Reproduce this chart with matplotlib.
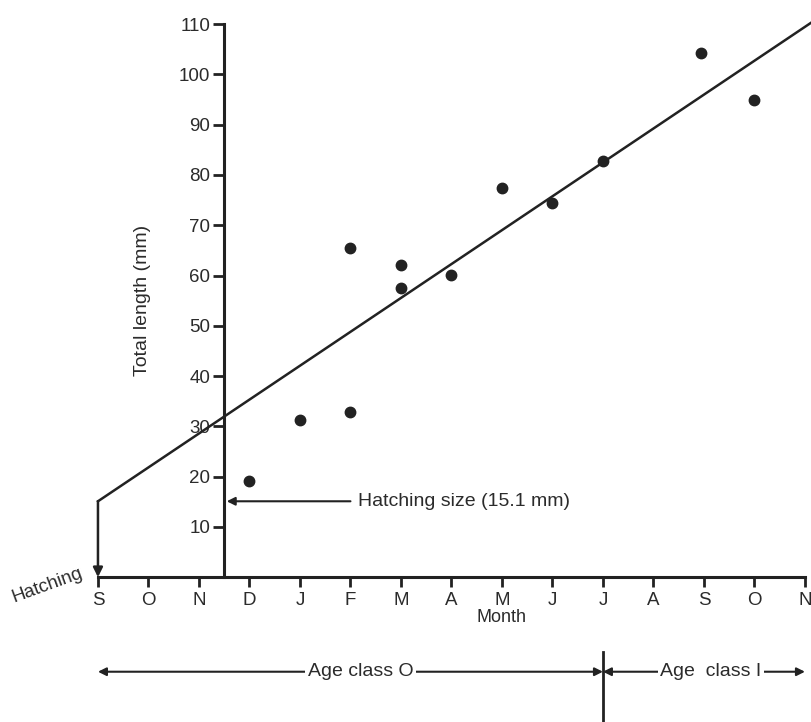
import matplotlib
matplotlib.use("Agg")
import matplotlib.pyplot as plt

plt.rcParams['font.family'] = ['Liberation Sans', 'DejaVu Sans']

# Month ticks along the x axis (Sept of hatching year to Nov of next)
months = ['S', 'O', 'N', 'D', 'J', 'F', 'M', 'A', 'M', 'J', 'J', 'A', 'S', 'O', 'N']
y_ticks = [10, 20, 30, 40, 50, 60, 70, 80, 90, 100, 110]

# Observed total lengths (month index, mm)
obs_month = [3, 4, 5, 5, 6, 6, 7, 8, 9, 10, 11.95, 13]
obs_length = [19.1, 31.2, 32.8, 65.4, 62.0, 57.5, 60.2, 77.5, 74.4, 82.7, 104.2, 95.0]

# Fitted growth line
hatch_size = 15.1
growth_rate = 6.74   # mm per month
line_x = [0, 14.3]

axis_x = 2.5         # y axis sits at mid-November
age_split = 10       # July of the second year
ink = '#222222'
txt = '#2b2b2b'

fig = plt.figure(figsize=(8.11, 7.22), dpi=100)
ax = fig.add_axes([0, 0, 1, 1])
ax.set_xlim(-1.94, 14.12)
ax.set_ylim(-28.8, 114.8)
ax.patch.set_alpha(0)

for s in ['top', 'right']:
    ax.spines[s].set_visible(False)
ax.spines['left'].set_position(('data', axis_x))
ax.spines['left'].set_bounds(0, 110)
ax.spines['bottom'].set_position(('data', 0))
ax.spines['bottom'].set_bounds(0, 14)
for s in ['left', 'bottom']:
    ax.spines[s].set_linewidth(2.2)
    ax.spines[s].set_color(ink)

ax.set_xticks(range(len(months)))
ax.set_xticklabels(months)
ax.set_yticks(y_ticks)
ax.tick_params(axis='x', direction='out', length=7, width=2, color=ink, pad=4,
               labelsize=13.5, labelcolor=txt)
ax.tick_params(axis='y', direction='out', length=8, width=2, color=ink, pad=2,
               labelsize=13.5, labelcolor=txt)

# growth line and observations
line_y = [hatch_size + growth_rate * x for x in line_x]
ax.plot(line_x, line_y, color=ink, lw=1.8, clip_on=False)
ax.plot(obs_month, obs_length, 'o', color=ink, ms=7.5)

# hatching drop arrow
ax.annotate('', xy=(0, 0), xytext=(0, hatch_size),
            arrowprops=dict(arrowstyle='-|>', color=ink, lw=1.8,
                            mutation_scale=14, shrinkA=0, shrinkB=0))
ax.text(-1.0, -1.7, 'Hatching', rotation=20, ha='center', va='center',
        fontsize=13.5, color=txt)

# hatching size pointer
ax.annotate('', xy=(axis_x + 0.05, hatch_size), xytext=(5.0, hatch_size),
            arrowprops=dict(arrowstyle='-|>', color=ink, lw=1.5,
                            mutation_scale=12, shrinkA=0, shrinkB=0))
ax.text(5.15, hatch_size, 'Hatching size (15.1 mm)', ha='left', va='center',
        fontsize=14, color=txt)

ax.text(8, -8, 'Month', ha='center', va='center', fontsize=13, color=txt)
ax.text(0.89, 55, 'Total length (mm)', rotation=90, ha='center', va='center',
        fontsize=14, color=txt)

# age class bands
y_age = -18.8
ax.plot([age_split, age_split], [-14.9, -30], color=ink, lw=2, clip_on=False)
for x0, x1, label, xc in [(0, age_split, 'Age class O', 5.2),
                          (age_split, 14, 'Age  class I', 12.14)]:
    ax.annotate('', xy=(x0, y_age), xytext=(xc, y_age),
                arrowprops=dict(arrowstyle='-|>', color=ink, lw=1.5,
                                mutation_scale=12, shrinkA=0, shrinkB=0))
    ax.annotate('', xy=(x1, y_age), xytext=(xc, y_age),
                arrowprops=dict(arrowstyle='-|>', color=ink, lw=1.5,
                                mutation_scale=12, shrinkA=0, shrinkB=0))
    ax.text(xc, y_age, label, ha='center', va='center', fontsize=14, color=txt,
            bbox=dict(facecolor='white', edgecolor='none', pad=2))

fig.savefig('out.png', dpi=100)
